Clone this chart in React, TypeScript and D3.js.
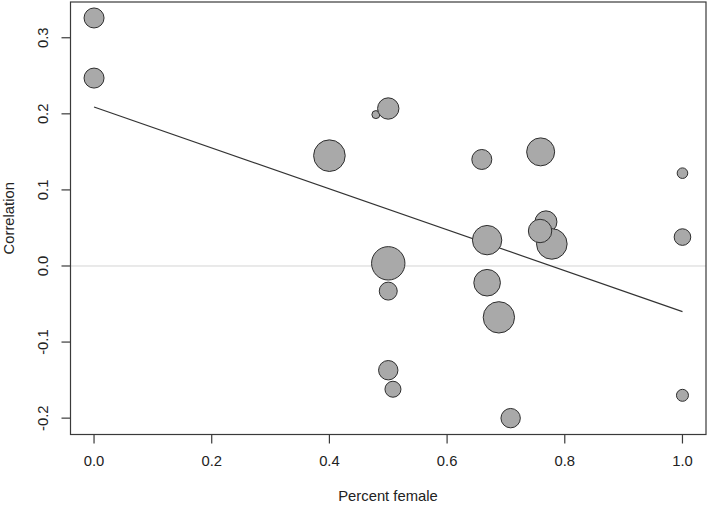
import React from "react";
import * as d3 from "d3";

// percent female, correlation and sample weight for each study
const pctFemale = [0, 0, 0.4, 0.479, 0.5, 0.5, 0.5, 0.5, 0.508, 0.659, 0.668, 0.668, 0.688, 0.708, 0.759, 0.768, 0.778, 0.758, 1.0, 1.0, 1.0];
const correlation = [0.326, 0.247, 0.145, 0.199, 0.207, 0.0035, -0.033, -0.137, -0.162, 0.14, 0.034, -0.022, -0.0675, -0.2, 0.15, 0.058, 0.029, 0.046, 0.122, 0.038, -0.17];
const weight = [100, 100, 250, 16, 114, 279, 81, 94, 64, 100, 216, 177, 246, 94, 196, 121, 234, 137, 28, 69, 36];

const xTicks = [0, 0.2, 0.4, 0.6, 0.8, 1.0];
const yTicks = [-0.2, -0.1, 0, 0.1, 0.2, 0.3];

// fitted regression line (intercept, slope)
const fit = { intercept: 0.209, slope: -0.269 };

// R style labels: plain hyphen for negatives
const fmt = (t: number) => d3.format(".1f")(t).replace("\u2212", "-");

export default function App() {
  const width = 709;
  const height = 505;
  const box = { left: 70.5, right: 706, top: 2, bottom: 434.5 };

  const xScale = d3.scaleLinear().domain([-0.04, 1.04]).range([box.left, box.right]);
  const yScale = d3.scaleLinear().domain([-0.2215, 0.347]).range([box.bottom, box.top]);
  const rScale = d3.scaleSqrt().domain([0, 279]).range([0, 16.7]);

  const points = pctFemale.map((x, i) => ({ x, y: correlation[i], n: weight[i] }));
  const line = d3
    .line<number>()
    .x((d) => xScale(d))
    .y((d) => yScale(fit.intercept + fit.slope * d));

  const font = "'Liberation Sans', Arial, sans-serif";
  const axisColor = "#3a3a3a";
  const fs = 14.8;

  return (
    <svg
      width={width}
      height={height}
      style={{ position: "absolute", left: 0, top: 0, background: "#fff" }}
      fontFamily={font}
    >
      {/* zero reference line */}
      <line
        x1={box.left}
        x2={box.right}
        y1={yScale(0)}
        y2={yScale(0)}
        stroke="#d4d4d4"
        strokeWidth={1}
      />

      {/* regression line */}
      <path d={line([0, 1]) || ""} fill="none" stroke="#333" strokeWidth={1.2} />

      {/* bubbles */}
      {points.map((d, i) => (
        <circle
          key={i}
          cx={xScale(d.x)}
          cy={yScale(d.y)}
          r={rScale(d.n)}
          fill="#a9a9a9"
          stroke="#2e2e2e"
          strokeWidth={1}
        />
      ))}

      {/* plot box */}
      <rect
        x={box.left}
        y={box.top}
        width={box.right - box.left}
        height={box.bottom - box.top}
        fill="none"
        stroke={axisColor}
        strokeWidth={1.2}
      />

      {/* x axis */}
      {xTicks.map((t) => (
        <g key={t} transform={`translate(${xScale(t)},0)`}>
          <line y1={box.bottom} y2={box.bottom + 9} stroke={axisColor} strokeWidth={1.2} />
          <text y={466} textAnchor="middle" fontSize={fs} fill="#222">
            {fmt(t)}
          </text>
        </g>
      ))}
      <text x={388} y={501} textAnchor="middle" fontSize={fs} fill="#222">
        Percent female
      </text>

      {/* y axis */}
      {yTicks.map((t) => (
        <g key={t} transform={`translate(0,${yScale(t)})`}>
          <line x1={box.left - 9} x2={box.left} stroke={axisColor} strokeWidth={1.2} />
          <text
            transform={`translate(48,0) rotate(-90)`}
            textAnchor="middle"
            fontSize={fs}
            fill="#222"
          >
            {fmt(t)}
          </text>
        </g>
      ))}
      <text
        transform={`translate(14,${(box.top + box.bottom) / 2}) rotate(-90)`}
        textAnchor="middle"
        fontSize={fs}
        fill="#222"
      >
        Correlation
      </text>
    </svg>
  );
}
